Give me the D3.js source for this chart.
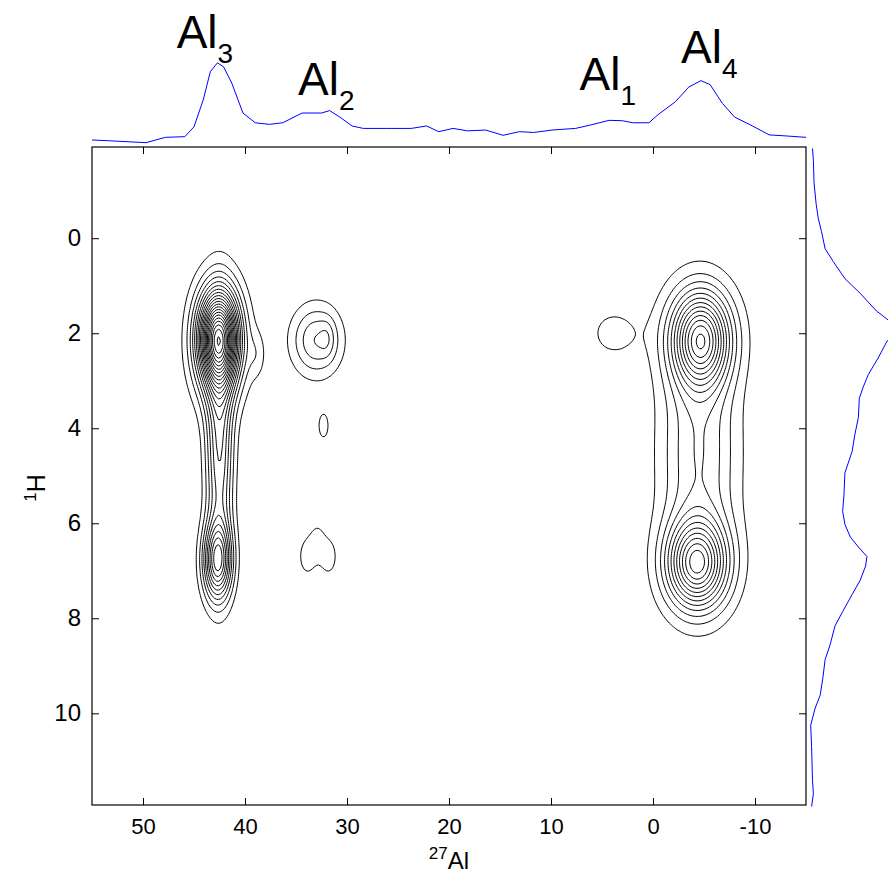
<!DOCTYPE html>
<html>
<head>
<meta charset="utf-8">
<script src="https://cdn.jsdelivr.net/npm/d3@7/dist/d3.min.js"></script>
<style>
  body { margin: 0; background: #fff; }
  svg { display: block; font-family: 'Liberation Sans', Arial, sans-serif; }
</style>
</head>
<body>
<div id="chart"></div>
<script>
// axis ticks
const alTicks = [50, 40, 30, 20, 10, 0, -10];
const hTicks = [0, 2, 4, 6, 8, 10];

// 2D cross peaks (ppm, relative height)
const peakAl     = [42.6, 42.6, 42.5, 42.7, 38.8, 33.0, 31.9, 32.3, 33.9, 31.8, 32.9, 3.9, -4.7, -4.5, -4.5, -4.3, -4.4];
const peakH      = [2.1, 2.2, 4.4, 6.8, 2.45, 2.15, 2.1, 3.95, 6.7, 6.7, 6.3, 2.0, 2.15, 2.0, 4.5, 6.85, 6.9];
const peakWidthAl = [1.3, 1.8, 0.92, 0.97, 0.6, 1.7, 0.5, 0.6, 0.7, 0.7, 0.6, 1.9, 1.8, 2.7, 2.6, 1.9, 2.7];
const peakWidthH  = [0.65, 0.9, 1.6, 0.56, 0.35, 0.51, 0.28, 0.32, 0.33, 0.33, 0.3, 0.42, 0.65, 0.8, 1.6, 0.6, 0.8];
const peakHeight  = [0.7, 0.25, 0.3, 0.45, 0.06, 0.2, 0.05, 0.065, 0.075, 0.075, 0.05, 0.068, 0.45, 0.15, 0.2, 0.45, 0.12];

const contourLevels = d3.range(0.05, 1.25, 0.05);

// 27Al projection (top trace)
const topAl = [55.0, 53.4, 49.7, 47.8, 45.9, 45.0, 44.1, 43.4, 42.7, 42.1, 41.3, 40.2, 39.0, 37.6, 36.3, 34.4,
  32.5, 31.7, 30.7, 29.5, 28.4, 26.1, 23.7, 22.2, 21.0, 19.6, 18.2, 16.4, 14.7, 13.1, 11.7, 9.9, 7.6, 6.2,
  4.3, 3.0, 2.0, 0.4, -0.5, -2.2, -3.5, -4.7, -5.6, -6.8, -8.0, -9.6, -11.4, -13.2, -15.0];
const topI = [0.037, 0.028, 0.004, 0.07, 0.078, 0.20, 0.53, 0.88, 0.99, 0.94, 0.74, 0.37, 0.25, 0.23, 0.25, 0.37,
  0.37, 0.40, 0.32, 0.21, 0.18, 0.18, 0.18, 0.21, 0.14, 0.18, 0.15, 0.16, 0.095, 0.14, 0.13, 0.16, 0.18, 0.22,
  0.28, 0.275, 0.25, 0.25, 0.35, 0.51, 0.69, 0.77, 0.72, 0.49, 0.32, 0.22, 0.10, 0.086, 0.07];

// 1H projection (right trace)
const sideH = [-1.89, -1.63, -1.17, -0.73, -0.41, -0.14, 0.22, 0.49, 0.85, 1.16, 1.53, 1.72, 2.0, 2.16, 2.52,
  2.87, 3.15, 3.37, 3.77, 4.14, 4.49, 4.94, 5.39, 5.75, 6.02, 6.29, 6.5, 6.7, 6.9, 7.2, 7.5, 7.86, 8.16, 8.56,
  8.87, 9.26, 9.62, 9.89, 10.25, 10.7, 11.42, 11.69, 11.96];
const sideI = [0.05, 0.06, 0.067, 0.09, 0.115, 0.15, 0.19, 0.28, 0.41, 0.58, 0.76, 0.89, 1.05, 0.88, 0.78,
  0.67, 0.61, 0.57, 0.56, 0.52, 0.49, 0.41, 0.40, 0.385, 0.41, 0.47, 0.56, 0.655, 0.64, 0.58, 0.49, 0.385, 0.30, 0.245,
  0.19, 0.165, 0.135, 0.08, 0.03, 0.04, 0.05, 0.06, 0.04];

// site labels above the projection
const siteSub = ['3', '2', '1', '4'];
const siteAl = [46.7, 34.8, 7.2, -2.75];
const siteLevel = [1.17, 0.59, 0.65, 0.99];

const width = 888, height = 877;
const plot = { left: 92, right: 806, top: 147, bottom: 805 };

const svg = d3.select('#chart')
  .append('svg')
  .attr('width', width)
  .attr('height', height);

const x = d3.scaleLinear().domain([55, -15]).range([plot.left, plot.right]);
const y = d3.scaleLinear().domain([-1.92, 11.93]).range([plot.top, plot.bottom]);
const topY = d3.scaleLinear().domain([0, 1]).range([143, 62]);
const sideX = d3.scaleLinear().domain([0, 1]).range([808, 898]);

// intensity grid from the peak list
const nx = 351, ny = 347;
const al0 = 55, dAl = -0.2, h0 = -1.92, dH = 0.04;
const values = new Float64Array(nx * ny);
for (let j = 0; j < ny; j++) {
  const h = h0 + j * dH;
  for (let i = 0; i < nx; i++) {
    const al = al0 + i * dAl;
    let v = 0;
    for (let k = 0; k < peakAl.length; k++) {
      const u = (al - peakAl[k]) / peakWidthAl[k];
      const w = (h - peakH[k]) / peakWidthH[k];
      v += peakHeight[k] * Math.exp(-0.5 * (u * u + w * w));
    }
    values[j * nx + i] = v;
  }
}

const contours = d3.contours()
  .size([nx, ny])
  .thresholds(contourLevels)(values);

const toPixels = d3.geoTransform({
  point(gx, gy) {
    this.stream.point(x(al0 + (gx - 0.5) * dAl), y(h0 + (gy - 0.5) * dH));
  }
});

svg.append('clipPath')
  .attr('id', 'plot-clip')
  .append('rect')
  .attr('x', plot.left)
  .attr('y', plot.top)
  .attr('width', plot.right - plot.left)
  .attr('height', plot.bottom - plot.top);

svg.append('g')
  .attr('clip-path', 'url(#plot-clip)')
  .selectAll('path')
  .data(contours)
  .join('path')
  .attr('d', d3.geoPath(toPixels))
  .attr('fill', 'none')
  .attr('stroke', '#000')
  .attr('stroke-width', 1);

// frame and mirrored inward ticks
svg.append('rect')
  .attr('x', plot.left)
  .attr('y', plot.top)
  .attr('width', plot.right - plot.left)
  .attr('height', plot.bottom - plot.top)
  .attr('fill', 'none')
  .attr('stroke', '#000')
  .attr('stroke-width', 1.2);

const xAxis = svg.append('g')
  .attr('transform', `translate(0,${plot.bottom})`)
  .call(d3.axisBottom(x).tickValues(alTicks).tickSize(-7).tickPadding(13).tickFormat(d => String(d)));

svg.append('g')
  .attr('transform', `translate(0,${plot.top})`)
  .call(d3.axisTop(x).tickValues(alTicks).tickSize(-7).tickFormat(''));

const yAxis = svg.append('g')
  .attr('transform', `translate(${plot.left},0)`)
  .call(d3.axisLeft(y).tickValues(hTicks).tickSize(-7).tickPadding(11).tickFormat(d => String(d)));

svg.append('g')
  .attr('transform', `translate(${plot.right},0)`)
  .call(d3.axisRight(y).tickValues(hTicks).tickSize(-7).tickFormat(''));

svg.selectAll('.domain').remove();
svg.selectAll('.tick line').attr('stroke', '#000');
xAxis.selectAll('text').attr('font-size', 22).attr('fill', '#000').attr('font-family', null);
yAxis.selectAll('text').attr('font-size', 24).attr('fill', '#000').attr('font-family', null);

// axis titles
const xTitle = svg.append('text')
  .attr('x', (plot.left + plot.right) / 2)
  .attr('y', 869)
  .attr('text-anchor', 'middle')
  .attr('font-size', 24);
xTitle.append('tspan').attr('font-size', 17).attr('dy', -10).text('27');
xTitle.append('tspan').attr('dy', 10).text('Al');

const yTitle = svg.append('text')
  .attr('transform', `translate(45,488) rotate(-90)`)
  .attr('text-anchor', 'middle')
  .attr('font-size', 25);
yTitle.append('tspan').attr('font-size', 17).attr('dy', -9).text('1');
yTitle.append('tspan').attr('dy', 9).text('H');

// projections
const topLine = d3.line()
  .x((d, i) => x(topAl[i]))
  .y((d, i) => topY(topI[i]));

svg.append('path')
  .attr('d', topLine(topAl))
  .attr('fill', 'none')
  .attr('stroke', '#0000ff')
  .attr('stroke-width', 1);

const sideLine = d3.line()
  .x((d, i) => sideX(sideI[i]))
  .y((d, i) => y(sideH[i]));

svg.append('path')
  .attr('d', sideLine(sideH))
  .attr('fill', 'none')
  .attr('stroke', '#0000ff')
  .attr('stroke-width', 1);

// site labels
siteSub.forEach((sub, i) => {
  const label = svg.append('text')
    .attr('x', x(siteAl[i]))
    .attr('y', topY(siteLevel[i]))
    .attr('font-size', 46);
  label.append('tspan').text('Al');
  label.append('tspan').attr('font-size', 28).attr('dy', 15).text(sub);
});
</script>
</body>
</html>
